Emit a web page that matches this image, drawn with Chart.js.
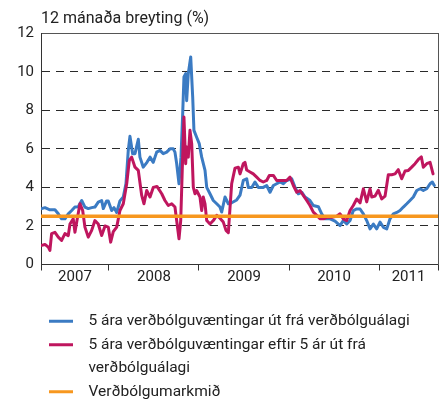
<!DOCTYPE html>
<html>
<head>
<meta charset="utf-8">
<script src="https://cdn.jsdelivr.net/npm/chart.js@4.4.0/dist/chart.umd.min.js"></script>
<style>
  html, body { margin: 0; padding: 0; background: #fff; }
</style>
</head>
<body>
<canvas id="chart" width="440" height="400"></canvas>
<script>
// Tímaás í árum (aukastafir = hluti úr ári)
const xMin = 2007.245;
const xMax = 2011.655;
const yearTicks = [2008, 2009, 2010, 2011];
const yearLabels = ['2007', '2008', '2009', '2010', '2011'];

// 5 ára verðbólguvæntingar út frá verðbólguálagi
const blueDates = [
  2007.252, 2007.289, 2007.344, 2007.400, 2007.437, 2007.474, 2007.511, 2007.548, 2007.586, 2007.622,
  2007.659, 2007.697, 2007.733, 2007.770, 2007.808, 2007.844, 2007.881, 2007.919, 2007.937, 2007.974,
  2007.992, 2008.030, 2008.056, 2008.086, 2008.122, 2008.159, 2008.189, 2008.214, 2008.233, 2008.263,
  2008.289, 2008.326, 2008.344, 2008.381, 2008.422, 2008.456, 2008.492, 2008.530, 2008.567, 2008.603,
  2008.641, 2008.678, 2008.714, 2008.733, 2008.752, 2008.778, 2008.800, 2008.819, 2008.833, 2008.852,
  2008.863, 2008.881, 2008.908, 2008.930, 2008.944, 2008.974, 2009.003, 2009.030, 2009.067, 2009.086,
  2009.122, 2009.159, 2009.197, 2009.233, 2009.252, 2009.289, 2009.326, 2009.363, 2009.419, 2009.456,
  2009.492, 2009.530, 2009.548, 2009.586, 2009.622, 2009.659, 2009.714, 2009.752, 2009.789, 2009.826,
  2009.863, 2009.900, 2009.937, 2009.974, 2010.030, 2010.067, 2010.103, 2010.141, 2010.178, 2010.233,
  2010.270, 2010.326, 2010.363, 2010.400, 2010.456, 2010.511, 2010.567, 2010.603, 2010.641, 2010.678,
  2010.714, 2010.752, 2010.789, 2010.826, 2010.863, 2010.900, 2010.937, 2010.974, 2011.011, 2011.048,
  2011.086, 2011.122, 2011.159, 2011.197, 2011.233, 2011.270, 2011.308, 2011.344, 2011.381, 2011.419,
  2011.456, 2011.492, 2011.530, 2011.567, 2011.592, 2011.614
];
const blueValues = [
  2.90, 2.95, 2.84, 2.84, 2.63, 2.37, 2.37, 2.63, 2.80, 2.98,
  3.00, 3.32, 2.98, 2.90, 2.95, 2.98, 3.24, 3.32, 2.90, 3.30,
  3.30, 2.80, 2.95, 2.70, 3.30, 3.50, 4.20, 5.90, 6.65, 5.75,
  5.75, 6.50, 5.57, 5.05, 5.30, 5.57, 5.30, 5.83, 5.92, 5.75,
  5.83, 6.00, 6.00, 5.83, 5.24, 4.19, 5.57, 7.83, 9.73, 9.90,
  8.50, 9.90, 10.77, 8.70, 6.96, 6.60, 6.27, 5.57, 4.88, 4.00,
  3.67, 3.32, 3.15, 2.98, 2.72, 3.50, 3.15, 3.20, 3.35, 3.60,
  4.36, 4.45, 4.00, 4.00, 4.28, 4.00, 4.00, 4.10, 3.75, 4.10,
  4.19, 4.28, 4.19, 4.36, 4.45, 4.00, 3.67, 3.75, 3.50, 3.32,
  3.06, 3.00, 2.63, 2.37, 2.37, 2.25, 2.02, 2.28, 2.10, 2.28,
  2.80, 2.88, 2.88, 2.63, 2.28, 1.85, 2.10, 1.85, 2.20, 1.93,
  1.85, 2.37, 2.63, 2.70, 2.80, 2.98, 3.15, 3.32, 3.50, 3.84,
  3.93, 3.84, 3.93, 4.19, 4.28, 4.10
];

// 5 ára verðbólguvæntingar eftir 5 ár út frá verðbólguálagi
const redDates = [
  2007.252, 2007.289, 2007.326, 2007.344, 2007.363, 2007.400, 2007.437, 2007.474, 2007.511, 2007.548,
  2007.567, 2007.603, 2007.622, 2007.648, 2007.678, 2007.708, 2007.733, 2007.770, 2007.808, 2007.844,
  2007.881, 2007.919, 2007.956, 2007.992, 2008.019, 2008.048, 2008.086, 2008.122, 2008.159, 2008.197,
  2008.226, 2008.252, 2008.289, 2008.326, 2008.363, 2008.389, 2008.419, 2008.456, 2008.492, 2008.533,
  2008.586, 2008.622, 2008.659, 2008.697, 2008.733, 2008.752, 2008.778, 2008.797, 2008.814, 2008.833,
  2008.852, 2008.863, 2008.881, 2008.900, 2008.919, 2008.937, 2008.956, 2008.974, 2009.011, 2009.030,
  2009.048, 2009.067, 2009.086, 2009.122, 2009.159, 2009.197, 2009.233, 2009.270, 2009.300, 2009.326,
  2009.344, 2009.363, 2009.400, 2009.437, 2009.456, 2009.492, 2009.511, 2009.530, 2009.567, 2009.603,
  2009.641, 2009.678, 2009.714, 2009.752, 2009.781, 2009.826, 2009.863, 2009.919, 2009.974, 2010.011,
  2010.048, 2010.086, 2010.122, 2010.159, 2010.197, 2010.233, 2010.270, 2010.308, 2010.344, 2010.381,
  2010.419, 2010.474, 2010.530, 2010.567, 2010.603, 2010.641, 2010.678, 2010.714, 2010.752, 2010.789,
  2010.826, 2010.863, 2010.900, 2010.919, 2010.956, 2010.992, 2011.030, 2011.067, 2011.103, 2011.141,
  2011.178, 2011.214, 2011.252, 2011.289, 2011.326, 2011.363, 2011.400, 2011.437, 2011.470, 2011.492,
  2011.530, 2011.567, 2011.600
];
const redValues = [
  0.99, 1.04, 0.90, 0.73, 1.60, 1.67, 1.42, 1.25, 1.60, 1.50,
  2.10, 2.37, 1.67, 2.37, 3.15, 2.80, 1.94, 1.42, 1.77, 2.28,
  2.10, 1.50, 2.00, 1.94, 1.16, 1.70, 1.94, 2.80, 3.15, 4.19,
  5.40, 5.57, 5.05, 4.88, 3.60, 3.15, 3.84, 3.50, 4.00, 4.05,
  3.67, 3.32, 3.06, 3.15, 2.98, 2.28, 1.33, 2.28, 4.88, 7.65,
  5.23, 6.10, 5.57, 6.96, 6.27, 4.00, 3.67, 3.84, 3.50, 2.80,
  3.50, 3.15, 2.28, 2.10, 2.28, 2.55, 2.40, 2.20, 1.77, 1.65,
  2.90, 4.19, 5.00, 5.05, 4.70, 5.23, 5.30, 4.90, 4.80, 4.70,
  4.53, 4.36, 4.28, 4.36, 4.62, 4.62, 4.36, 4.36, 4.36, 4.53,
  4.10, 3.75, 3.84, 3.58, 3.32, 3.06, 2.72, 2.55, 2.37, 2.37,
  2.45, 2.45, 2.50, 2.63, 2.37, 2.28, 2.80, 3.06, 3.40, 3.20,
  3.93, 3.25, 3.93, 3.50, 3.55, 3.85, 3.40, 3.55, 4.66, 4.66,
  4.70, 4.92, 4.45, 4.85, 4.88, 5.05, 5.23, 5.45, 5.58, 5.05,
  5.23, 5.30, 4.70
];

// Verðbólgumarkmið
const targetValue = 2.5;

const titleText = '12 mánaða breyting (%)';
const seriesNames = [
  '5 ára verðbólguvæntingar út frá verðbólguálagi',
  '5 ára verðbólguvæntingar eftir 5 ár út frá',
  'verðbólguálagi',
  'Verðbólgumarkmið'
];

const BLUE = '#3b7bc3';
const RED = '#bf165e';
const ORANGE = '#f7971f';
const TEXT = '#222';
const FONT = { family: 'Roboto', size: 15 };
const LEGEND_FONT = { family: 'Roboto', size: 15.5 };

// miðja hvers árs innan sýnilega bilsins, þar koma ártölin
const labelPos = yearLabels.map(y => {
  const a = Math.max(Number(y), xMin);
  const b = Math.min(Number(y) + 1, xMax);
  return (a + b) / 2;
});

const toPoints = (dates, values) => dates.map((d, i) => ({ x: d, y: values[i] }));

function legendItems() {
  const colors = [BLUE, RED, 'rgba(0,0,0,0)', ORANGE];
  return seriesNames.map((name, i) => ({
    // bil fremst gefur rýmið milli línu og texta; aukabil aftast knýr fram nýja línu
    text: '  ' + name + (i === 2 ? ' '.repeat(70) : ''),
    fillStyle: colors[i],
    strokeStyle: colors[i],
    lineWidth: 3,
    pointStyle: 'line',
    fontColor: TEXT,
    hidden: false,
    datasetIndex: i === 3 ? 2 : (i === 0 ? 0 : 1)
  }));
}

new Chart(document.getElementById('chart'), {
  type: 'line',
  data: {
    datasets: [
      { label: seriesNames[0], data: toPoints(blueDates, blueValues), borderColor: BLUE, borderWidth: 3, order: 2 },
      { label: seriesNames[1], data: toPoints(redDates, redValues), borderColor: RED, borderWidth: 3, order: 1 },
      { label: seriesNames[3], data: [{ x: xMin, y: targetValue }, { x: xMax, y: targetValue }], borderColor: ORANGE, borderWidth: 3.5, order: 0 }
    ]
  },
  options: {
    animation: false,
    responsive: false,
    elements: {
      point: { radius: 0 },
      line: { tension: 0, borderJoinStyle: 'round', borderCapStyle: 'round' }
    },
    layout: { padding: { left: 0, right: 2, top: 0, bottom: -9.5 } },
    plugins: {
      title: {
        display: true,
        text: titleText,
        align: 'start',
        fullSize: false,
        color: TEXT,
        font: { family: 'Roboto', size: 16, weight: 'normal' },
        padding: { top: 9, bottom: 5 }
      },
      legend: {
        position: 'bottom',
        align: 'start',
        fullSize: false,
        onClick: null,
        labels: {
          usePointStyle: true,
          pointStyleWidth: 24,
          padding: 8,
          color: TEXT,
          font: LEGEND_FONT,
          generateLabels: legendItems
        }
      },
      tooltip: { enabled: false }
    },
    scales: {
      x: {
        type: 'linear',
        min: xMin,
        max: xMax,
        afterBuildTicks: scale => {
          const vals = [xMin, ...yearTicks, xMax, ...labelPos].sort((a, b) => a - b);
          scale.ticks = vals.map(v => ({ value: v }));
        },
        afterFit: scale => { scale.height = 41; },
        grid: {
          drawOnChartArea: false,
          tickLength: 6,
          color: ctx => (ctx.tick && labelPos.includes(ctx.tick.value)) ? 'rgba(0,0,0,0)' : '#333'
        },
        border: { display: true, color: '#333' },
        ticks: {
          autoSkip: false,
          maxRotation: 0,
          padding: -2,
          color: TEXT,
          font: FONT,
          callback: value => {
            const i = labelPos.indexOf(value);
            return i >= 0 ? yearLabels[i] : '';
          }
        }
      },
      xTop: {
        type: 'linear',
        position: 'top',
        min: xMin,
        max: xMax,
        grid: { display: false, drawTicks: false },
        ticks: { display: false },
        border: { display: true, color: '#555' }
      },
      y: {
        min: 0,
        max: 12,
        afterFit: scale => { scale.width = 41; },
        ticks: { stepSize: 2, padding: 7, color: TEXT, font: FONT },
        grid: {
          drawTicks: false,
          color: ctx => (ctx.tick && (ctx.tick.value === 0 || ctx.tick.value === 12)) ? 'rgba(0,0,0,0)' : '#2a2a2a'
        },
        border: { display: true, color: '#333', dash: [8, 6] }
      },
      yRight: {
        position: 'right',
        min: 0,
        max: 12,
        grid: { display: false, drawTicks: false },
        ticks: { display: false },
        border: { display: true, color: '#555' }
      }
    }
  }
});
</script>
</body>
</html>
